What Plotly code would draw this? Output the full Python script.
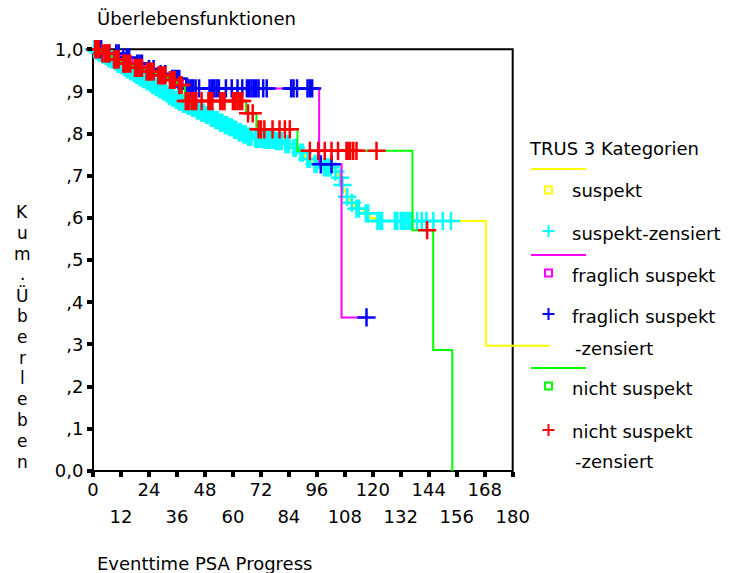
import numpy as np
import plotly.graph_objects as go

# ---------------- data ----------------
# suspekt: step times (months) and cumulative survival after each step
sus_t = [0, 1, 2, 3.5, 5, 6, 7.5, 9, 10, 11.5, 13, 14, 15.5, 17, 18, 19.5, 21, 22.5,
         24, 25, 26.5, 28, 29.5, 31, 32, 33.5, 35, 36.5, 38, 40, 42, 44, 46, 48, 50,
         52, 54, 56, 58, 60, 62, 64, 66, 69, 73, 78, 82, 85, 88, 91, 94, 98, 103,
         105, 106.5, 107.5, 108.5, 110, 112, 116, 119, 121, 168.5, 196]
sus_s = [1.0, 0.996, 0.992, 0.988, 0.984, 0.979, 0.975, 0.971, 0.966, 0.962, 0.957,
         0.953, 0.948, 0.943, 0.939, 0.934, 0.929, 0.924, 0.92, 0.915, 0.91, 0.905,
         0.9, 0.895, 0.89, 0.885, 0.88, 0.875, 0.871, 0.866, 0.861, 0.855, 0.849,
         0.844, 0.838, 0.832, 0.826, 0.82, 0.815, 0.809, 0.803, 0.798, 0.792, 0.788,
         0.785, 0.782, 0.775, 0.766, 0.755, 0.74, 0.728, 0.72, 0.71, 0.695, 0.678,
         0.664, 0.65, 0.636, 0.622, 0.611, 0.6, 0.593, 0.297, 0.297]
sus_cens = [0.5, 1.5, 2.5, 3, 4, 4.5, 5.5, 6.5, 7, 8, 8.5, 9.5, 10.5, 11, 12, 12.5,
            13.5, 14.5, 15, 16, 16.5, 17.5, 18.5, 19, 20, 20.5, 21.5, 22, 23, 23.5,
            24.5, 25.5, 26, 27, 27.5, 28.5, 29, 30, 30.5, 31.5, 32.5, 33, 34, 34.5,
            35.5, 36, 37, 37.5, 38.5, 39, 39.5, 40.5, 41, 41.5, 42.5, 43, 43.5, 44.5,
            45, 45.5, 46.5, 47, 47.5, 48.5, 49, 49.5, 50.5, 51, 51.5, 52.5, 53, 53.5,
            54.5, 55, 55.5, 56.5, 57, 57.5, 58.5, 59, 59.5, 60.5, 61, 61.5, 62.5, 63,
            63.5, 64.5, 65, 65.5, 66.5, 67, 67.5, 68, 69.5, 70, 70.5, 71, 72, 72.5,
            73.5, 74, 75, 75.5, 76, 77, 77.5, 78.5, 79, 80, 81, 82.5, 83.5, 84, 86,
            87, 89, 90, 92, 93, 95, 96, 99, 100, 101, 102, 104, 106, 107, 109, 111,
            113, 114, 117, 118, 122, 123, 124, 129.5, 130.5, 132, 133, 134, 135, 136,
            137, 139, 141, 143, 146, 150, 153.5]

# fraglich suspekt
fr_t = [0, 5, 12, 17, 22, 27, 33, 38.5, 97, 106.6, 117.3]
fr_s = [1.0, 0.99, 0.98, 0.966, 0.953, 0.941, 0.93, 0.907, 0.727, 0.364, 0.364]
fr_cens = [1, 2.5, 3.5, 7, 10, 11, 13, 14.5, 15.5, 19, 20, 21, 24, 26, 29, 31, 34,
           35, 36, 37, 40, 41, 42, 43, 44, 45.5, 50, 51, 52, 53, 54, 57, 59.5, 62,
           64, 66, 67, 68, 69, 70, 71, 73, 74.5, 85, 86, 87.5, 92, 93, 94, 97.7,
           102.3, 117.3]

# nicht suspekt
ni_t = [0, 3, 8, 12, 17, 22, 27, 32, 36, 39.4, 65.6, 70.1, 87.7, 137, 145.9, 154.1]
ni_s = [1.0, 0.99, 0.976, 0.966, 0.956, 0.947, 0.938, 0.927, 0.915, 0.877, 0.848,
        0.81, 0.759, 0.571, 0.287, 0.0]
ni_cens = [1, 1.5, 2, 2.5, 4, 5, 5.5, 6, 7, 9, 9.5, 10, 10.5, 11, 13, 13.5, 14, 15,
           16, 18, 18.5, 19, 20, 21, 23, 24, 25, 26, 28, 29, 30, 31, 33, 34, 35, 37,
           38, 39.8, 40.5, 41.3, 42.5, 43.3, 44.3, 46.6, 49.5, 50.3, 51.2, 54.6,
           55.5, 56.4, 60, 61, 62, 63, 64, 66.5, 68.5, 71, 72, 73.5, 77, 80, 82.3,
           84.4, 93, 96.6, 99.4, 102.3, 105.1, 108.7, 109.5, 110.3, 111.6, 113,
           121.6, 143.3]

y_ticks = [0.0, 0.1, 0.2, 0.3, 0.4, 0.5, 0.6, 0.7, 0.8, 0.9, 1.0]
y_labels = ["0,0", ",1", ",2", ",3", ",4", ",5", ",6", ",7", ",8", ",9", "1,0"]
x_major = [0, 24, 48, 72, 96, 120, 144, 168]
x_minor = [12, 36, 60, 84, 108, 132, 156, 180]

groups = [
    ("suspekt", sus_t, sus_s, sus_cens, "#FFFF00", "#00FFFF"),
    ("fraglich suspekt", fr_t, fr_s, fr_cens, "#FF00FF", "#0000FF"),
    ("nicht suspekt", ni_t, ni_s, ni_cens, "#00FF00", "#FF0000"),
]

# ---------------- layout constants ----------------
FONT = "DejaVu Sans"
FS = 18
W, H = 730, 573
ML, MR, MT, MB = 93, 180, 45, 102
XR = [0, 196]
YR = [0, 1.01]
PW = W - ML - MR
PH = H - MT - MB


def px(xp):
    return (xp - ML) / PW


def py(yp):
    return (H - MB - yp) / PH


def surv_at(times, surv, t):
    idx = np.searchsorted(np.asarray(times), t, side="right") - 1
    return np.asarray(surv)[idx]


fig = go.Figure()
for name, t, s, cens, lc, mc in groups:
    fig.add_trace(go.Scatter(x=t, y=s, mode="lines", line=dict(color=lc, width=2, shape="hv"),
                             name=name, showlegend=False, hoverinfo="skip"))
    fig.add_trace(go.Scatter(x=cens, y=surv_at(t, s, cens), mode="markers",
                             marker=dict(symbol="cross-thin", size=13, color=mc,
                                         line=dict(color=mc, width=2.5)),
                             cliponaxis=False, name=name + "-zensiert",
                             showlegend=False, hoverinfo="skip"))

# helper trace so the second (label-only) x axis is drawn
fig.add_trace(go.Scatter(x=[x_minor[0]], y=[None], xaxis="x2", yaxis="y",
                         mode="markers", showlegend=False, hoverinfo="skip"))

shapes = []
# frame box (0..180, 0..1)
shapes.append(dict(type="rect", xref="paper", yref="paper",
                   x0=0, x1=(180 - XR[0]) / (XR[1] - XR[0]),
                   y0=0, y1=(1.0 - YR[0]) / (YR[1] - YR[0]),
                   line=dict(color="black", width=2), layer="below"))

annotations = []
txt = dict(family=FONT, size=FS, color="black")
annotations.append(dict(text="Überlebensfunktionen", xref="paper", yref="paper",
                        x=px(95), y=py(18), xanchor="left", yanchor="middle",
                        showarrow=False, font=txt))
annotations.append(dict(text="Eventtime PSA Progress", xref="paper", yref="paper",
                        x=px(95), y=py(563), xanchor="left", yanchor="middle",
                        showarrow=False, font=txt))
ytitle = "Kum. Überleben".replace(" ", "")
for i, ch in enumerate(ytitle):
    annotations.append(dict(text=ch, xref="paper", yref="paper", x=px(22),
                            y=py(212 + i * 20.8), xanchor="center", yanchor="middle",
                            showarrow=False, font=dict(family=FONT, size=17, color="black")))

# manual legend
annotations.append(dict(text="TRUS 3 Kategorien", xref="paper", yref="paper",
                        x=px(527), y=py(148), xanchor="left", yanchor="middle",
                        showarrow=False, font=txt))
leg_rows = [  # (line y, square y, cross y, texts)
    (169, 190, 231, [("suspekt", 570, 191), ("suspekt-zensiert", 570, 233)]),
    (255, 273, 314, [("fraglich suspekt", 570, 275), ("fraglich suspekt", 570, 316),
                     ("-zensiert", 573, 348)]),
    (368, 386, 430, [("nicht suspekt", 570, 388), ("nicht suspekt", 570, 431),
                     ("-zensiert", 573, 461)]),
]
for (ly, sy, cy, texts), (_, _, _, _, lc, mc) in zip(leg_rows, groups):
    shapes.append(dict(type="line", xref="paper", yref="paper", x0=px(531), x1=px(586),
                       y0=py(ly), y1=py(ly), line=dict(color=lc, width=2)))
    shapes.append(dict(type="rect", xref="paper", yref="paper", x0=px(545), x1=px(552),
                       y0=py(sy + 3.5), y1=py(sy - 3.5), line=dict(color=lc, width=2)))
    shapes.append(dict(type="line", xref="paper", yref="paper", x0=px(542.5), x1=px(554.5),
                       y0=py(cy), y1=py(cy), line=dict(color=mc, width=2)))
    shapes.append(dict(type="line", xref="paper", yref="paper", x0=px(548.5), x1=px(548.5),
                       y0=py(cy - 6), y1=py(cy + 6), line=dict(color=mc, width=2)))
    for t_, x_, y_ in texts:
        annotations.append(dict(text=t_, xref="paper", yref="paper", x=px(x_), y=py(y_),
                                xanchor="left", yanchor="middle", showarrow=False, font=txt))

all_x = sorted(x_major + x_minor)
fig.update_layout(
    width=W, height=H,
    margin=dict(l=ML, r=MR, t=MT, b=MB, pad=0),
    paper_bgcolor="white", plot_bgcolor="white",
    font=dict(family=FONT, size=FS, color="black"),
    showlegend=False,
    xaxis=dict(range=XR, tickvals=all_x,
               ticktext=[str(v) if v in x_major else "" for v in all_x],
               ticks="outside", ticklen=5, tickwidth=4, tickcolor="black",
               ticklabelstandoff=-3,
               showline=False, showgrid=False, zeroline=False, automargin=False,
               tickfont=dict(family=FONT, size=FS)),
    xaxis2=dict(range=XR, overlaying="x", anchor="y", side="bottom",
                tickvals=x_minor, ticktext=[str(v) for v in x_minor], ticks="",
                ticklabelstandoff=33, showline=False, showgrid=False, zeroline=False,
                automargin=False, tickfont=dict(family=FONT, size=FS)),
    yaxis=dict(range=YR, tickvals=y_ticks, ticktext=y_labels,
               ticks="outside", ticklen=5, tickwidth=4, tickcolor="black",
               showline=False, showgrid=False, zeroline=False, automargin=False,
               tickfont=dict(family=FONT, size=FS)),
    shapes=shapes, annotations=annotations,
)

fig.write_html("out.html")
